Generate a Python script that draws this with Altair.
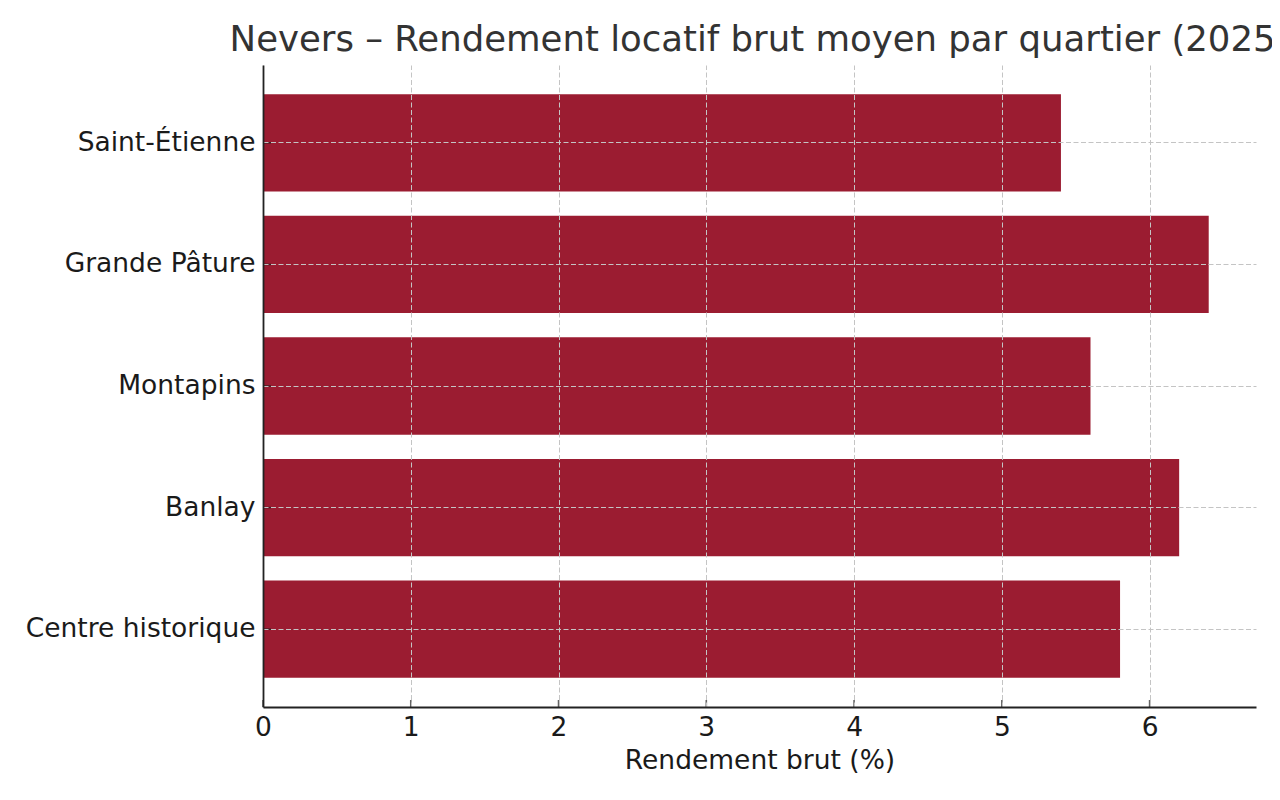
import altair as alt
import pandas as pd

# Data
quartiers = ["Centre historique", "Banlay", "Montapins", "Grande Pâture", "Saint-Étienne"]
rendements = [5.8, 6.2, 5.6, 6.4, 5.4]
x_ticks = [0, 1, 2, 3, 4, 5, 6]
x_max = 6.72
titre = "Nevers – Rendement locatif brut moyen par quartier (2025)"
titre_x = "Rendement brut (%)"

df = pd.DataFrame({"quartier": quartiers, "rendement": rendements})
ticks_df = pd.DataFrame({"t": x_ticks})
order = quartiers[::-1]

FONT = "DejaVu Sans"
W, H = 993, 642
INK = "#1a1a1a"
FS = 26.5

xscale = alt.Scale(domain=[0, x_max], nice=False, zero=True)
yscale = alt.Scale(domain=order, paddingInner=0.2, paddingOuter=0.24)

xaxis = alt.Axis(
    values=x_ticks, format="d", title=titre_x, grid=True,
    gridDash=[5, 2.5], gridColor="#c4c4c4", gridWidth=1,
    ticks=False, labelPadding=7, labelFontSize=FS, labelFont=FONT, labelColor=INK,
    titleFontSize=FS, titleFont=FONT, titleColor=INK, titleFontWeight="normal",
    titlePadding=7, domainColor="#222", domainWidth=1.8, zindex=1, labelFlush=False,
)
yaxis = alt.Axis(
    title=None, grid=True, bandPosition=0.5,
    gridDash=[5, 2.5], gridColor="#c4c4c4", gridWidth=1,
    ticks=False, labelPadding=8, labelFontSize=FS, labelFont=FONT, labelColor=INK,
    labelLimit=400, domainColor="#222", domainWidth=1.8, zindex=1,
)

bars = alt.Chart(df).mark_bar(color="#9B1C31").encode(
    x=alt.X("rendement:Q", scale=xscale, axis=xaxis),
    y=alt.Y("quartier:N", scale=yscale, sort=order, axis=yaxis),
)

xt = alt.Chart(ticks_df).mark_tick(
    orient="vertical", size=7, thickness=1.6, yOffset=-3.5, color="#222"
).encode(
    x=alt.X("t:Q", scale=xscale, axis=xaxis),
    y=alt.value("height"),
)

yt = alt.Chart(df).mark_tick(
    orient="horizontal", size=8, thickness=1.6, xOffset=4, color="#222"
).encode(
    y=alt.Y("quartier:N", scale=yscale, sort=order, axis=yaxis),
    x=alt.value(0),
)

chart = alt.layer(bars, xt, yt).properties(
    width=W, height=H,
    title=alt.TitleParams(
        titre, fontSize=35.5, font=FONT, color="#333333", fontWeight="normal",
        anchor="middle", frame="group", baseline="alphabetic", offset=13, dy=34,
    ),
    padding={"left": 255, "top": 57, "right": 16, "bottom": 70},
    autosize=alt.AutoSizeParams(type="none"),
).configure_view(stroke=None)

chart.save("out.html", embed_options={"renderer": "svg", "actions": False})
